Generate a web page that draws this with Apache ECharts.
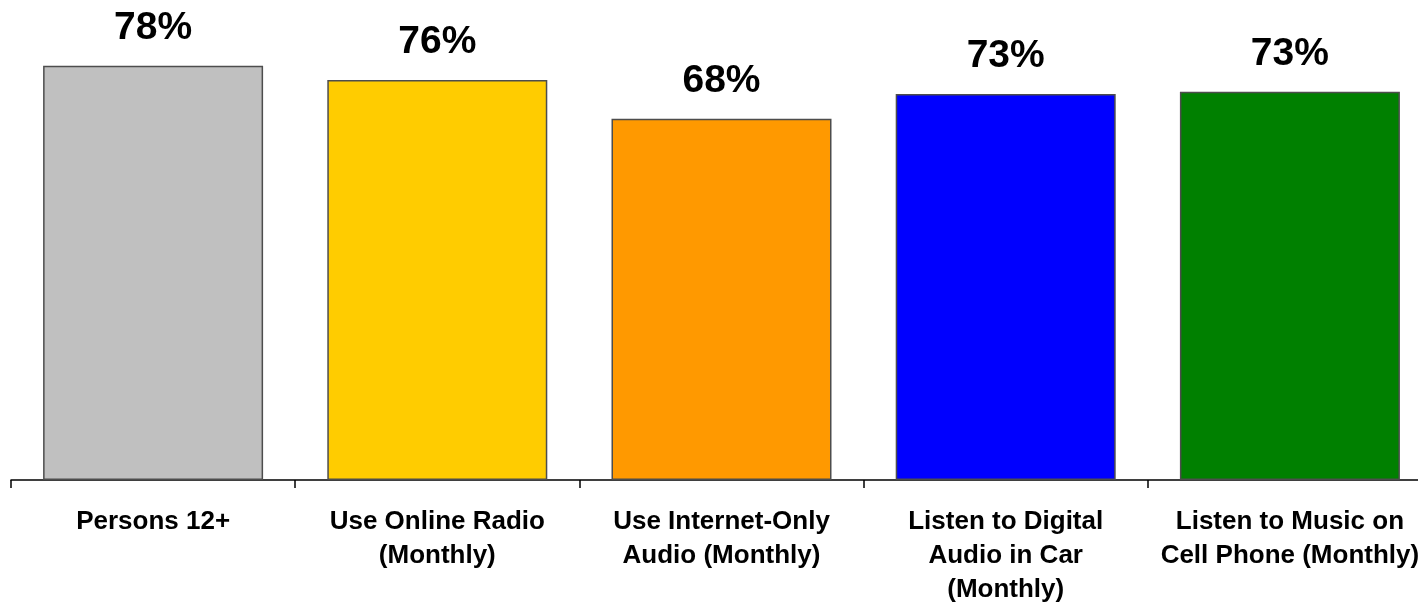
<!DOCTYPE html>
<html>
<head>
<meta charset="utf-8">
<title></title>
<script src="https://cdn.jsdelivr.net/npm/echarts@6/dist/echarts.min.js"></script>
<style>
*{
	padding:0;
	margin:0;
}
#chart{
	width:1418px;
	height:605px;
	background:#fff;
}
</style>
</head>
<body>
<div id="chart"></div>
<script>
// categories and values (bar heights, labels as printed)
var categories = [
    'Persons 12+',
    'Use Online Radio\n(Monthly)',
    'Use Internet-Only\nAudio (Monthly)',
    'Listen to Digital\nAudio in Car\n(Monthly)',
    'Listen to Music on\nCell Phone (Monthly)'
];
var values = [78, 75.3, 68, 72.7, 73.1];
var valueLabels = ['78%', '76%', '68%', '73%', '73%'];
var barColors = ['#C0C0C0', '#FFCC00', '#FF9900', '#0000FF', '#008000'];

var chart = echarts.init(document.getElementById('chart'));

var seriesData = [];
for (var i = 0; i < values.length; i++) {
    seriesData.push({
        value: values[i],
        itemStyle: { color: barColors[i] }
    });
}

var option = {
    animation: false,
    textStyle: { fontFamily: 'Liberation Sans, Arial, sans-serif' },
    grid: {
        left: 11,
        right: -14,
        top: 2,
        bottom: 125,
        outerBoundsMode: 'none',
        containLabel: false
    },
    xAxis: {
        type: 'category',
        data: categories,
        axisLine: { lineStyle: { color: '#000', width: 1.5 } },
        axisTick: { show: true, length: 8, lineStyle: { color: '#000', width: 1.5 } },
        axisLabel: {
            interval: 0,
            margin: 25,
            color: '#000',
            fontSize: 26,
            fontWeight: 'bold',
            lineHeight: 34,
            fontFamily: 'Liberation Sans, Arial, sans-serif'
        }
    },
    yAxis: {
        type: 'value',
        min: 0,
        max: 90,
        show: false,
        splitLine: { show: false }
    },
    series: [{
        type: 'bar',
        data: seriesData,
        barWidth: 220,
        itemStyle: {
            borderColor: '#4d4d4d',
            borderWidth: 1.5
        },
        label: {
            show: true,
            position: 'top',
            distance: 18,
            color: '#000',
            fontSize: 39,
            fontWeight: 'bold',
            fontFamily: 'Liberation Sans, Arial, sans-serif',
            formatter: function (p) {
                return valueLabels[p.dataIndex];
            }
        }
    }]
};
chart.setOption(option);
</script>
</body>
</html>
